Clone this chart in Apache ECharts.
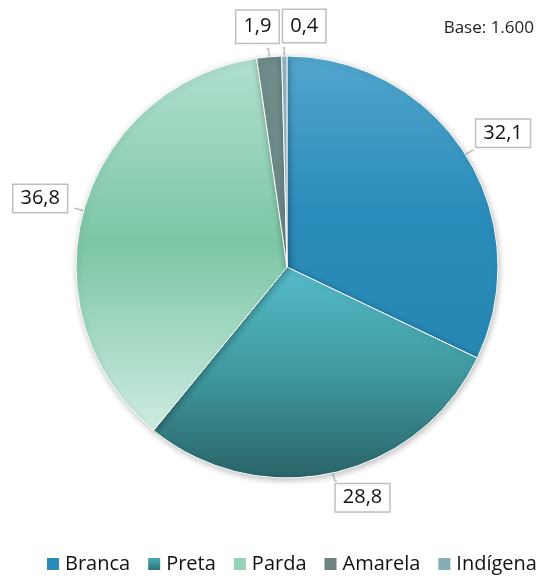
<!DOCTYPE html>
<html>
<head>
<meta charset="utf-8">
<script src="https://cdn.jsdelivr.net/npm/echarts@6/dist/echarts.min.js"></script>
<style>
  html, body { margin: 0; padding: 0; background: #fff; }
  #main { width: 546px; height: 579px; }
</style>
</head>
<body>
<div id="main"></div>
<script>
var categories = ['Branca', 'Preta', 'Parda', 'Amarela', 'Indígena'];
var values = [32.1, 28.8, 36.8, 1.9, 0.4];
var baseText = 'Base: 1.600';

var chart = echarts.init(document.getElementById('main'));
var FONT = '"Open Sans", Lato, sans-serif';

function lg(stops, x2, y2) {
    return new echarts.graphic.LinearGradient(0, 0, x2, y2, stops.map(function (c, i) {
        return {offset: i / (stops.length - 1), color: c};
    }));
}

// slice fills (Office-like gradients)
var fills = [
    lg(['#52a6cd', '#2b8dbb', '#2786b3'], 0, 1),
    lg(['#55bcc9', '#3f99a0', '#2a6468'], 0, 1),
    lg(['#b2e0cf', '#7bc6a5', '#cfece2'], 0, 1),
    '#6e8c8a',
    '#93b8c4'
];
var legendColors = ['#2a8cba', lg(['#4fb6c2', '#2a6a70'], 0, 1), '#94d3b8', '#6f8583', '#86aeb9'];

// label offsets (dx, dy) from default outside position
var labelShift = [[-3, -17], [-6, 17], [-2, -10], [17, -22], [48, -22]];
var labelPad = [[4, 7, 3, 7], [4, 7, 3, 7], [4, 7, 3, 7], [5, 7, 7, 7], [5, 7, 7, 7]];

var pieData = categories.map(function (name, i) {
    return {
        name: name,
        value: values[i],
        itemStyle: {color: fills[i]},
        label: {padding: labelPad[i]}
    };
});

var option = {
    animation: false,
    graphic: [{
        type: 'text',
        right: 12,
        top: 20,
        style: {text: baseText, font: '17px ' + FONT, fill: '#222'}
    }],
    legend: {
        bottom: 0,
        left: 40,
        itemWidth: 14,
        itemHeight: 14,
        itemGap: 16,
        icon: 'rect',
        textStyle: {fontSize: 20, color: '#111', fontFamily: FONT},
        data: categories.map(function (c, i) {
            return {name: c, itemStyle: {color: legendColors[i]}};
        })
    },
    series: [{
        type: 'pie',
        center: [287, 267],
        radius: 211,
        startAngle: 90,
        clockwise: true,
        avoidLabelOverlap: false,
        data: pieData,
        itemStyle: {
            borderColor: '#fff',
            borderWidth: 1,
            shadowBlur: 6,
            shadowColor: 'rgba(0,0,0,0.25)',
            shadowOffsetX: 1,
            shadowOffsetY: 2
        },
        label: {
            show: true,
            position: 'outside',
            formatter: function (p) { return String(p.value).replace('.', ','); },
            fontSize: 20,
            color: '#111',
            fontFamily: FONT,
            backgroundColor: '#fff',
            borderColor: '#bfbfbf',
            borderWidth: 1.5
        },
        labelLine: {
            show: true,
            length: 8,
            length2: 2,
            lineStyle: {color: '#bfbfbf', width: 1.5}
        },
        labelLayout: function (params) {
            var s = labelShift[params.dataIndex];
            return {dx: s[0], dy: s[1]};
        }
    }]
};

chart.setOption(option);
</script>
</body>
</html>
